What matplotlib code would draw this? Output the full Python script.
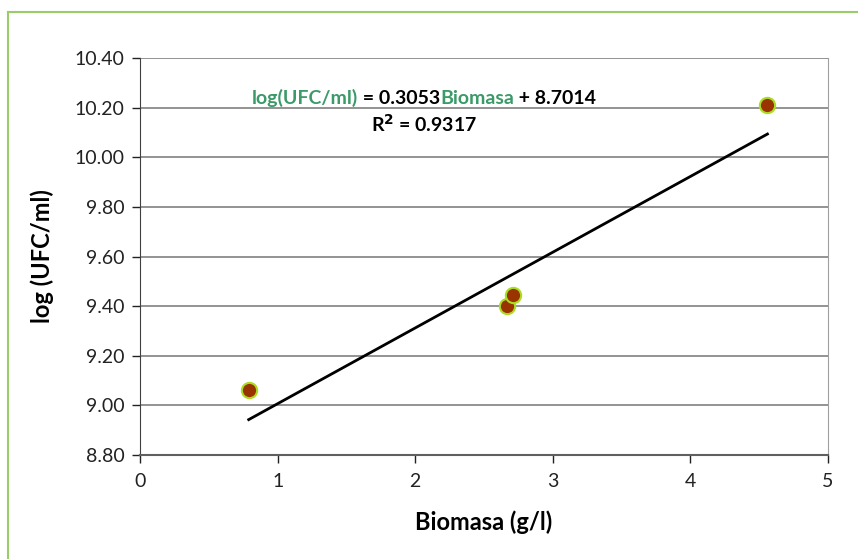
import matplotlib
matplotlib.use("Agg")
import matplotlib.pyplot as plt
from matplotlib.offsetbox import TextArea, HPacker, AnnotationBbox
from matplotlib.lines import Line2D

plt.rcParams['font.family'] = ['Lato', 'DejaVu Sans']

biomasa = [0.79, 2.67, 2.71, 4.56]
log_ufc = [9.06, 9.40, 9.445, 10.21]
slope = 0.3053
intercept = 8.7014
r2 = 0.9317
xticks = [0, 1, 2, 3, 4, 5]
yticks = [8.80, 9.00, 9.20, 9.40, 9.60, 9.80, 10.00, 10.20, 10.40]

fig = plt.figure(figsize=(8.58, 5.59), dpi=100)
ax = fig.add_axes([140/858, 1-455/559, (828-140)/858, (455-58)/559])

ax.set_xlim(0, 5)
ax.set_ylim(8.80, 10.40)
ax.set_xticks(xticks)
ax.set_yticks(yticks)
ax.set_yticklabels([f"{v:.2f}" for v in yticks])
ax.yaxis.grid(True, color='#808080', linewidth=1.2)
ax.set_axisbelow(True)
ax.spines['top'].set_visible(False)
ax.spines['right'].set_color('#a0a0a0')
ax.spines['left'].set_color('#404040')
ax.spines['bottom'].set_color('#606060')
ax.spines['bottom'].set_linewidth(1.5)
ax.tick_params(axis='both', direction='out', length=6, width=1, labelsize=14, colors='#222222')
ax.tick_params(axis='x', pad=7)
ax.tick_params(axis='y', pad=5)

xmin, xmax = min(biomasa), max(biomasa)
ax.plot([xmin, xmax], [slope*xmin+intercept, slope*xmax+intercept], color='black', lw=2, zorder=3)
ax.plot(biomasa, log_ufc, 'o', markersize=11, markerfacecolor='#993300',
        markeredgecolor='#aadd22', markeredgewidth=1.5, zorder=4, linestyle='none')

ax.set_xlabel('Biomasa (g/l)', fontsize=17, fontweight='bold')
ax.set_ylabel('log (UFC/ml)', fontsize=17, fontweight='bold')
ax.xaxis.set_label_coords(0.5, (455-510)/397)
ax.yaxis.set_label_coords((54-140)/688, 0.5)

green = '#3a9a68'
props = dict(fontsize=14, fontweight='bold')
parts = [TextArea('log(UFC/ml)', textprops=dict(color=green, **props)),
         TextArea(' = 0.3053', textprops=dict(color='black', **props)),
         TextArea('Biomasa', textprops=dict(color=green, **props)),
         TextArea(' + 8.7014', textprops=dict(color='black', **props))]
box = HPacker(children=parts, align='baseline', pad=0, sep=0)
ab = AnnotationBbox(box, (424/858, 1-98/559), xycoords='figure fraction', frameon=False,
                    box_alignment=(0.5, 0.5))
fig.add_artist(ab)
fig.text(424/858, 1-124/559, r'R$^\mathbf{2}$ = ' + f'{r2:.4f}', ha='center', va='center',
         fontsize=14, fontweight='bold')

# green frame
fig.add_artist(Line2D([8/858, 8/858], [0, 1-12/559], transform=fig.transFigure, color='#9acd6a', lw=1.5))
fig.add_artist(Line2D([8/858, 1], [1-12/559, 1-12/559], transform=fig.transFigure, color='#9acd6a', lw=1.5))

fig.savefig('out.png', dpi=100)
